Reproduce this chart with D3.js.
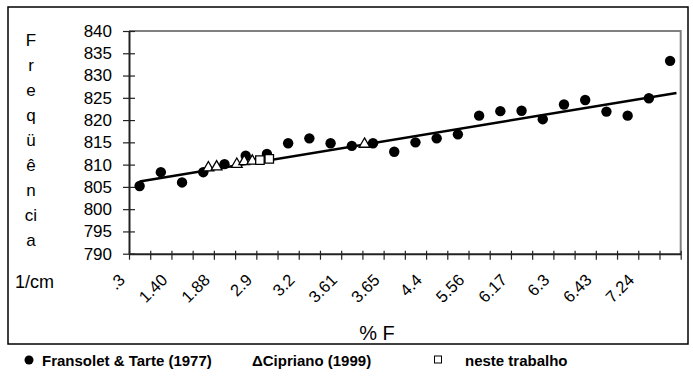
<!DOCTYPE html>
<html>
<head>
<meta charset="utf-8">
<script src="https://cdn.jsdelivr.net/npm/d3@7"></script>
<style>
  body { margin: 0; background: #fff; }
  svg { font-family: "Liberation Sans", Arial, sans-serif; }
</style>
</head>
<body>
<svg></svg>
<script>
// Fransolet & Tarte (1977) - one point per category
var fransoletY = [805.2, 808.3, 806.0, 808.3, 810.1, 812.0, 812.4, 814.8, 815.9, 814.8, 814.2, 814.8, 812.9,
                  815.0, 815.9, 816.8, 821.0, 822.0, 822.1, 820.2, 823.5, 824.5, 821.9, 821.0, 824.9, 833.3];
// Cipriano (1999) - position in category units
var ciprianoX = [3.74, 4.13, 5.08, 5.43, 5.81, 11.1];
var ciprianoY = [809.3, 809.5, 810.1, 810.7, 810.8, 814.6];
// neste trabalho
var nesteX = [6.17, 6.61];
var nesteY = [811.0, 811.3];
// trend line end points
var trendX = [0.5, 25.8];
var trendY = [806.2, 826.1];

var xTickLabels = [".3", "1.40", "1.88", "2.9", "3.2", "3.61", "3.65", "4.4", "5.56", "6.17", "6.3", "6.43", "7.24"];
var yTicks = [790, 795, 800, 805, 810, 815, 820, 825, 830, 835, 840];
var yTitle = ["F", "r", "e", "q", "ü", "ê", "n", "ci", "a"];

var svgWidth = 693, svgHeight = 377;
var plotLeft = 129, plotRight = 680.7, plotTop = 31, plotBottom = 253.7;

var svg = d3.select('svg')
    .attr("width", svgWidth)
    .attr("height", svgHeight);

var xScale = d3.scaleLinear()
    .domain([0, fransoletY.length])
    .range([plotLeft, plotRight]);
var yScale = d3.scaleLinear()
    .domain([790, 840])
    .range([plotBottom, plotTop]);

// outer frame
svg.append("rect")
    .attr("x", 8).attr("y", 7)
    .attr("width", 680).attr("height", 337)
    .attr("fill", "none")
    .attr("stroke", "#000")
    .attr("stroke-width", 1.5);

// plot area border (top + right in gray)
svg.append("path")
    .attr("d", "M" + plotLeft + "," + plotTop + "H" + plotRight + "V" + plotBottom)
    .attr("fill", "none")
    .attr("stroke", "#808080")
    .attr("stroke-width", 2);

var y_axis = d3.axisLeft(yScale)
    .tickValues(yTicks)
    .tickSizeInner(6)
    .tickSizeOuter(0)
    .tickPadding(11);

var gy = svg.append("g")
    .attr("transform", "translate(" + plotLeft + ",0)")
    .call(y_axis);
gy.select(".domain").attr("stroke", "#222").attr("stroke-width", 2);
gy.selectAll(".tick line").attr("x1", 6).attr("x2", -6).attr("stroke", "#222").attr("stroke-width", 1.2);
gy.selectAll(".tick text")
    .attr("font-size", 17)
    .attr("font-family", "Liberation Sans, Arial, sans-serif")
    .attr("fill", "#000");

var x_axis = d3.axisBottom(xScale)
    .tickValues(d3.range(fransoletY.length + 1))
    .tickFormat("")
    .tickSizeInner(6)
    .tickSizeOuter(0);

var gx = svg.append("g")
    .attr("transform", "translate(0," + plotBottom + ")")
    .call(x_axis);
gx.select(".domain").attr("stroke", "#222").attr("stroke-width", 2);
gx.selectAll(".tick line").attr("y1", -3).attr("y2", 6).attr("stroke", "#222").attr("stroke-width", 1.2);

// rotated category labels, every other tick
svg.selectAll(".xlab")
    .data(xTickLabels)
    .enter()
    .append("text")
    .attr("class", "xlab")
    .attr("transform", function (d, i) {
        return "translate(" + (xScale(i * 2) - 3) + ",281) rotate(-45)";
    })
    .attr("text-anchor", "end")
    .attr("font-size", 16.5)
    .text(function (d) { return d; });

// axis titles
svg.selectAll(".ytitle")
    .data(yTitle)
    .enter()
    .append("text")
    .attr("class", "ytitle")
    .attr("x", 31)
    .attr("y", function (d, i) { return 46 + i * 25; })
    .attr("text-anchor", "middle")
    .attr("font-size", 17)
    .text(function (d) { return d; });

svg.append("text")
    .attr("x", 15).attr("y", 288)
    .attr("font-size", 18)
    .text("1/cm");

svg.append("text")
    .attr("x", 377).attr("y", 340)
    .attr("text-anchor", "middle")
    .attr("font-size", 20)
    .text("% F");

// trend line
var line = d3.line()
    .x(function (d) { return xScale(d[0]); })
    .y(function (d) { return yScale(d[1]); });

svg.append("path")
    .datum(d3.zip(trendX, trendY))
    .attr("d", line)
    .attr("fill", "none")
    .attr("stroke", "#000")
    .attr("stroke-width", 2.5);

// series
svg.selectAll(".fr")
    .data(fransoletY)
    .enter()
    .append("circle")
    .attr("class", "fr")
    .attr("cx", function (d, i) { return xScale(i + 0.5); })
    .attr("cy", function (d) { return yScale(d); })
    .attr("r", 5.2)
    .attr("fill", "#000");

svg.selectAll(".ci")
    .data(d3.zip(ciprianoX, ciprianoY))
    .enter()
    .append("path")
    .attr("class", "ci")
    .attr("d", d3.symbol(d3.symbolTriangle, 50))
    .attr("transform", function (d) {
        return "translate(" + xScale(d[0]) + "," + yScale(d[1]) + ")";
    })
    .attr("fill", "#fff")
    .attr("stroke", "#000")
    .attr("stroke-width", 1.3);

svg.selectAll(".ne")
    .data(d3.zip(nesteX, nesteY))
    .enter()
    .append("path")
    .attr("class", "ne")
    .attr("d", d3.symbol(d3.symbolSquare, 72))
    .attr("transform", function (d) {
        return "translate(" + xScale(d[0]) + "," + yScale(d[1]) + ")";
    })
    .attr("fill", "#fff")
    .attr("stroke", "#000")
    .attr("stroke-width", 1.3);

// legend below the frame
var legend = svg.append("g").attr("font-size", 15).attr("font-weight", "bold");
legend.append("circle").attr("cx", 29).attr("cy", 360).attr("r", 4.5).attr("fill", "#000");
legend.append("text").attr("x", 42).attr("y", 365.5).text("Fransolet & Tarte (1977)");
legend.append("text").attr("x", 252).attr("y", 365.5).text("ΔCipriano (1999)");
legend.append("rect").attr("x", 434.5).attr("y", 356).attr("width", 7).attr("height", 7)
    .attr("fill", "#fff").attr("stroke", "#000").attr("stroke-width", 1);
legend.append("text").attr("x", 465).attr("y", 365.5).text("neste trabalho");
</script>
</body>
</html>
